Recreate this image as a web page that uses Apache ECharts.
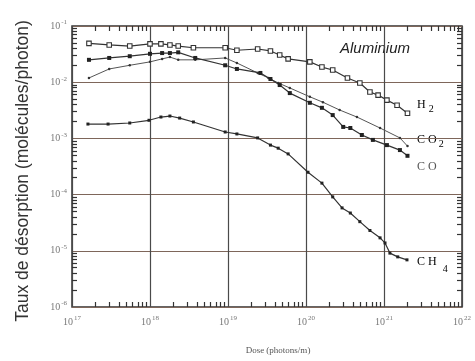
<!DOCTYPE html>
<html><head><meta charset="utf-8">
<script src="https://cdn.jsdelivr.net/npm/echarts@6/dist/echarts.min.js"></script>
<style>html,body{margin:0;padding:0;background:#fff}#c{width:475px;height:361px}</style>
</head><body><div id="c"></div>
<script>
// ---- data ----
const xMin = 1e17, xMax = 1e22;
const yMin = 1e-6, yMax = 1e-1;
const xDecades = [17, 18, 19, 20, 21, 22];
const yDecades = [-6, -5, -4, -3, -2, -1];

const h2X = [1.65e17,3e17,5.5e17,1e18,1.38e18,1.8e18,2.3e18,3.6e18,9.2e18,1.3e19,2.4e19,3.5e19,4.6e19,5.9e19,1.12e20,1.6e20,2.2e20,3.4e20,4.9e20,6.6e20,8.4e20,1.09e21,1.47e21,2.0e21];
const h2Y = [0.049,0.046,0.044,0.048,0.048,0.046,0.044,0.041,0.041,0.037,0.039,0.036,0.0305,0.026,0.023,0.0186,0.0165,0.0119,0.0097,0.0067,0.0059,0.0048,0.0039,0.0028];

const co2X = [1.65e17,3e17,5.5e17,1e18,1.43e18,1.8e18,2.3e18,3.8e18,9.2e18,1.3e19,2.4e19,3.3e19,4.4e19,6.2e19,1.12e20,1.65e20,2.7e20,4.5e20,8.9e20,1.6e21,2.0e21];
const co2Y = [0.0119,0.0172,0.020,0.023,0.026,0.028,0.025,0.025,0.027,0.022,0.0146,0.0119,0.0097,0.0079,0.0055,0.0044,0.0032,0.0024,0.00153,0.00102,0.00073];

const coX = [1.65e17,3e17,5.5e17,1e18,1.43e18,1.8e18,2.3e18,3.8e18,9.2e18,1.3e19,2.6e19,3.5e19,4.6e19,6.2e19,1.12e20,1.6e20,2.2e20,3.0e20,3.7e20,5.2e20,7.2e20,1.09e21,1.6e21,2.0e21];
const coY = [0.025,0.027,0.029,0.032,0.033,0.033,0.034,0.027,0.020,0.0172,0.0146,0.0114,0.0089,0.0064,0.0043,0.0035,0.0026,0.0016,0.00153,0.00115,0.00094,0.00076,0.00062,0.00049];

const ch4X = [1.6e17,2.9e17,5.5e17,9.7e17,1.38e18,1.8e18,2.4e18,3.6e18,9.2e18,1.3e19,2.4e19,3.5e19,4.4e19,5.9e19,1.06e20,1.6e20,2.2e20,2.9e20,3.7e20,4.9e20,6.6e20,8.9e20,1.03e21,1.19e21,1.5e21,1.97e21];
const ch4Y = [0.0018,0.0018,0.00188,0.0021,0.0024,0.0025,0.0023,0.00196,0.0013,0.0012,0.00102,0.00076,0.00067,0.00053,0.00025,0.00016,9.1e-5,5.8e-5,4.7e-5,3.3e-5,2.3e-5,1.7e-5,1.38e-5,9.1e-6,7.8e-6,6.9e-6];

const yAxisTitle = 'Taux de désorption (molécules/photon)';
const xAxisTitle = 'Dose (photons/m)';
const plotTitle = 'Aluminium';

// ---- build ----
const pair = (xs, ys) => xs.map((x, i) => [x, ys[i]]);
const serif = "'Liberation Serif', 'DejaVu Serif', serif";
const sans = "'Liberation Sans', Arial, sans-serif";

// minor log tick positions m * 10^d, m = 2..9
const xMinor = [], yMinor = [];
for (let d = xDecades[0]; d < xDecades[xDecades.length-1]; d++) for (let m = 2; m <= 9; m++) xMinor.push(m * Math.pow(10, d));
for (let d = yDecades[0]; d < yDecades[yDecades.length-1]; d++) for (let m = 2; m <= 9; m++) yMinor.push(m * Math.pow(10, d));

const lblRich = {
  b: {fontFamily: serif, fontSize: 10, color: '#777'},
  e: {fontFamily: serif, fontSize: 7, color: '#777', verticalAlign: 'top', padding: [0, 0, 7, 1]}
};
const expLabel = v => '{b|10}{e|' + Math.round(Math.log10(v)) + '}';

function tickAxis(min, max, position, values) {
  return {
    type: 'log', logBase: 10, min, max, position,
    axisLine: {show: false}, axisLabel: {show: false}, splitLine: {show: false},
    axisTick: {show: true, inside: true, length: 5, customValues: values, lineStyle: {color: '#333', width: 1.2}}
  };
}

const lineCol = '#333';
const chart = echarts.init(document.getElementById('c'), null, {renderer: 'canvas'});
chart.setOption({
  animation: false,
  backgroundColor: '#fff',
  grid: {left: 72, right: 13, top: 26, bottom: 54, show: true, borderColor: '#333', borderWidth: 1.5, backgroundColor: 'transparent'},
  xAxis: [{
    type: 'log', logBase: 10, min: xMin, max: xMax, position: 'bottom',
    axisLine: {show: false}, axisTick: {show: false},
    splitLine: {show: true, lineStyle: {color: '#4a4a4a', width: 1.2}},
    axisLabel: {margin: 8, formatter: expLabel, rich: lblRich}
  }, tickAxis(xMin, xMax, 'bottom', xMinor), tickAxis(xMin, xMax, 'top', xMinor)],
  yAxis: [{
    type: 'log', logBase: 10, min: yMin, max: yMax, position: 'left',
    axisLine: {show: false}, axisTick: {show: false},
    splitLine: {show: true, lineStyle: {color: '#7e665a', width: 1.2}},
    axisLabel: {margin: 5, formatter: expLabel, rich: lblRich}
  }, tickAxis(yMin, yMax, 'left', yMinor), tickAxis(yMin, yMax, 'right', yMinor)],
  series: [
    {type: 'line', name: 'H2', data: pair(h2X, h2Y), symbol: 'rect', symbolSize: 4.5,
      itemStyle: {color: '#fff', borderColor: lineCol, borderWidth: 1.1}, lineStyle: {color: lineCol, width: 1.2}, z: 5},
    {type: 'line', name: 'CO2', data: pair(co2X, co2Y), symbol: 'circle', symbolSize: 2.5,
      itemStyle: {color: lineCol}, lineStyle: {color: '#555', width: 1}, z: 4},
    {type: 'line', name: 'CO', data: pair(coX, coY), symbol: 'rect', symbolSize: 4,
      itemStyle: {color: '#222'}, lineStyle: {color: lineCol, width: 1.2}, z: 5},
    {type: 'line', name: 'CH4', data: pair(ch4X, ch4Y), symbol: 'rect', symbolSize: 3,
      itemStyle: {color: '#222'}, lineStyle: {color: lineCol, width: 1.2}, z: 5}
  ],
  graphic: [
    {type: 'text', x: 23, y: 171, rotation: Math.PI / 2,
      style: {text: yAxisTitle, font: '17.5px ' + sans, fill: '#333', align: 'center', verticalAlign: 'middle'}},
    {type: 'text', x: 278, y: 351,
      style: {text: xAxisTitle, font: '9px ' + serif, fill: '#555', align: 'center', verticalAlign: 'middle'}},
    {type: 'text', left: 340, top: 41, style: {text: plotTitle, font: 'italic 15px ' + sans, fill: '#222'}},
    {type: 'text', left: 417, top: 99, style: {text: '{m|H}{s|2}', rich: {m: {fontFamily: serif, fontSize: 12, color: '#555'}, s: {fontFamily: serif, fontSize: 10, color: '#555', padding: [9, 0, 0, 3]}}}},
    {type: 'text', left: 417, top: 134, style: {text: '{m|C O}{s|2}', rich: {m: {fontFamily: serif, fontSize: 12, color: '#666'}, s: {fontFamily: serif, fontSize: 10, color: '#666', padding: [9, 0, 0, 2]}}}},
    {type: 'text', left: 417, top: 161, style: {text: 'C O', font: '12px ' + serif, fill: '#555'}},
    {type: 'text', left: 417, top: 256, style: {text: '{m|C H}{s|4}', rich: {m: {fontFamily: serif, fontSize: 12, color: '#555'}, s: {fontFamily: serif, fontSize: 10, color: '#555', padding: [14, 0, 0, 6]}}}}
  ]
});
</script>
</body></html>
